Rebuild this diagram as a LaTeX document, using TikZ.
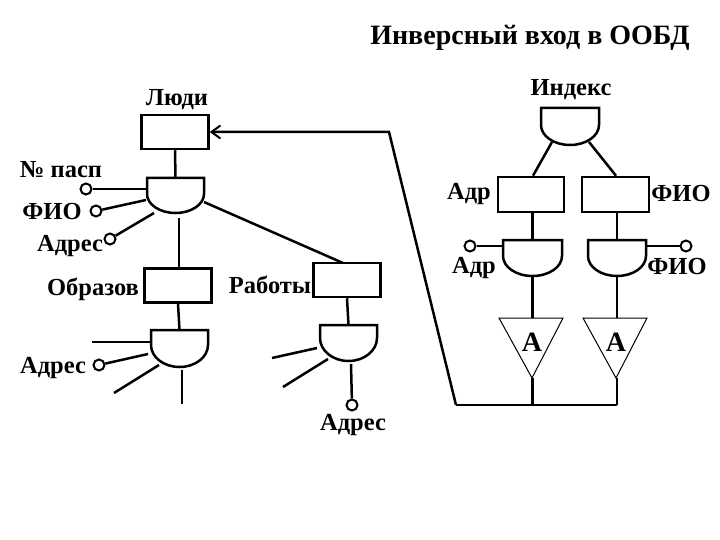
\documentclass[tikz,border=0pt]{standalone}
\usepackage{fontspec}
\setmainfont{Liberation Serif}
\usetikzlibrary{arrows.meta}
\newcommand\mygate[6]{%
  \draw[ln] (#2-#4,#3) -- (#2+#4,#3) -- (#2+#4,#3+#5)
    arc[start angle=0,end angle=180,x radius=#4,y radius=#6] -- cycle;
  \coordinate (#1t) at (#2,#3);
  \coordinate (#1b) at (#2,#3+#5+#6);}
\begin{document}
\begin{tikzpicture}[x=1pt,y=-1pt,
  ln/.style={line width=2.5pt},
  lbl/.style={font=\bfseries\fontsize{24.5}{26}\selectfont,inner sep=0pt},
  box/.style={draw,line width=2.5pt,inner sep=0pt,minimum width=67pt,minimum height=34pt},
  pin/.style={draw,circle,line width=2pt,minimum size=11pt,inner sep=0pt},
  tri/.style={line width=1pt}]
\useasboundingbox (0,0) rectangle (720,540);
\node[font=\bfseries\fontsize{28}{32}\selectfont,inner sep=0pt] (title) at (530,38) {Инверсный вход в ООБД};

% --- left tree ---
\node[lbl] (lLudi) at (177,100) {Люди};
\node[box] (Ludi) at (175,132) {};
\mygate{g1}{175.5}{178}{28.5}{16}{19}
\draw[ln] (Ludi.south) -- (g1t);
\node[lbl] (lPasp) at (61,170) {№ пасп};
\node[pin] (c1) at (86,189) {};
\coordinate (g1a) at (147,189);
\draw[ln] (c1) -- (g1a);
\node[lbl] (lFio1) at (52,212) {ФИО};
\node[pin] (c2) at (96,211) {};
\coordinate (g1c) at (146,200);
\draw[ln] (c2) -- (g1c);
\node[lbl] (lAdr1) at (70,246) {Адрес};
\node[pin] (c3) at (110,239) {};
\coordinate (g1d) at (154,213);
\draw[ln] (c3) -- (g1d);

\node[lbl] (lObr) at (93,289) {Образов};
\node[box] (Obr) at (178,285.5) {};
\coordinate (g1e) at (179,218);
\draw[ln] (g1e) -- (g1e |- Obr.north);
\coordinate (g1r) at (204,202);

\node[lbl] (lRab) at (270,285) {Работы};
\node[box] (Rab) at (347,280) {};
\coordinate (rabtop) at (343,263);
\draw[ln] (g1r) -- (rabtop);

% gate 2 (Образов)
\mygate{g2}{179.5}{330}{28.5}{15}{22}
\draw[ln] (Obr.south) -- (g2t);
\coordinate (g2a) at (151,342);
\coordinate (g2aL) at (92,342);
\draw[ln] (g2aL) -- (g2a);
\node[lbl] (lAdr2) at (53,368) {Адрес};
\node[pin] (c4) at (99,365) {};
\coordinate (g2c) at (148,354);
\draw[ln] (c4) -- (g2c);
\coordinate (g2d) at (159,365);
\coordinate (g2dL) at (114,393);
\draw[ln] (g2dL) -- (g2d);
\coordinate (g2e) at (182,370);
\coordinate (g2eB) at (182,404);
\draw[ln] (g2e) -- (g2eB);

% gate 3 (Работы)
\mygate{g3}{348.5}{325}{28.5}{13}{23}
\draw[ln] (Rab.south) -- (g3t);
\coordinate (g3a) at (317,348);
\coordinate (g3aL) at (272,358);
\draw[ln] (g3aL) -- (g3a);
\coordinate (g3c) at (328,359);
\coordinate (g3cL) at (283,387);
\draw[ln] (g3cL) -- (g3c);
\coordinate (g3e) at (351,364);
\node[pin] (c5) at (352,405) {};
\draw[ln] (g3e) -- (c5);
\node[lbl] (lAdr3) at (353,425) {Адрес};

% --- right tree ---
\node[lbl] (lInd) at (571,90) {Индекс};
\mygate{gi}{570}{108}{29}{17}{20}
\coordinate (gil) at (552,142);
\coordinate (gir) at (589,142);
\node[box,minimum width=66pt,minimum height=35pt] (Badr) at (531,194.5) {};
\node[box,minimum width=67pt,minimum height=35pt] (Bfio) at (615.5,194.5) {};
\node[lbl] (lAdrB) at (469,194) {Адр};
\node[lbl] (lFioB) at (681,194) {ФИО};
\draw[ln] (gil) -- (Badr.north -| 533,0);
\draw[ln] (gir) -- (Bfio.north -| 616,0);

\mygate{ga}{532.5}{240}{29.5}{16}{20}
\mygate{gf}{617}{240}{29}{16}{20}
\draw[ln] (Badr.south -| gat) -- (gat);
\draw[ln] (Bfio.south -| gft) -- (gft);
\node[pin] (c6) at (470,246) {};
\coordinate (gaL) at (503,246);
\draw[ln] (c6) -- (gaL);
\node[pin] (c7) at (686,246) {};
\coordinate (gfR) at (646,246);
\draw[ln] (gfR) -- (c7);
\node[lbl] (lAdrG) at (474,268) {Адр};
\node[lbl] (lFioG) at (677,267) {ФИО};

% triangles
\coordinate (t1l) at (499,318);
\coordinate (t1r) at (563,318);
\coordinate (t1v) at (532,378);
\coordinate (t2l) at (583,318);
\coordinate (t2r) at (647,318);
\coordinate (t2v) at (616,378);
\draw[tri] (t1l) -- (t1r) -- (t1v) -- cycle;
\draw[tri] (t2l) -- (t2r) -- (t2v) -- cycle;
\node[lbl,font=\bfseries\fontsize{28}{30}\selectfont] (A1) at (532,342) {A};
\node[lbl,font=\bfseries\fontsize{28}{30}\selectfont] (A2) at (616,342) {A};
\draw[ln] (gab) -- (gab |- t1l);
\draw[ln] (gfb) -- (gfb |- t2l);
\coordinate (j1) at (532.5,405);
\coordinate (j2) at (617,405);
\coordinate (bl) at (456,405);
\draw[ln] (t1v -| j1) -- (j1);
\draw[ln] (t2v -| j2) -- (j2);
\draw[ln] (bl) -- (j2);
\coordinate (bend) at (389,132);
\draw[ln,-{Straight Barb[length=9pt,width=13pt,line width=2pt]}] (bl) -- (bend) -- (Ludi.east);
\end{tikzpicture}
\end{document}
